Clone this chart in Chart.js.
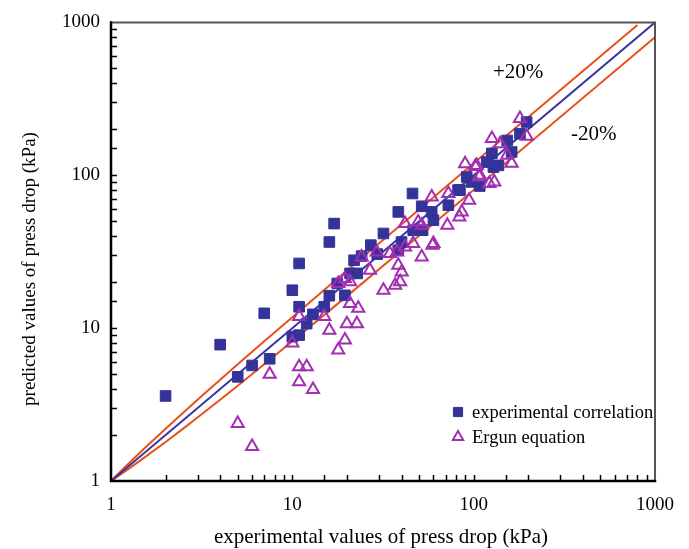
<!DOCTYPE html>
<html>
<head>
<meta charset="utf-8">
<script src="https://cdn.jsdelivr.net/npm/chart.js@4.4.1/dist/chart.umd.min.js"></script>
<style>
  html, body { margin: 0; padding: 0; background: #fff; }
  #wrap { width: 689px; height: 549px; position: relative; }
</style>
</head>
<body>
<div id="wrap"><canvas id="c" width="689" height="549"></canvas></div>
<script>
// Measured vs. predicted pressure drop (kPa)
const correlationExp  = [2, 4, 5, 6, 7, 7.5, 10, 10, 10.9, 10.9, 10.9, 12, 13, 15, 16, 16, 17, 17.7, 19.5, 20.8, 22.8, 21.9, 24.1, 27.1, 29.4, 31.8, 38.4, 40, 38.4, 46, 51.7, 46.4, 52.3, 58.7, 60, 72.5, 84, 82, 91.6, 97.6, 108, 118, 126, 128.5, 137, 153, 162, 180, 196];
const correlationPred = [3.6, 7.8, 4.8, 5.7, 12.5, 6.3, 17.7, 8.8, 26.5, 13.8, 9.0, 10.7, 12.3, 13.8, 16.3, 36.6, 48.3, 19.6, 16.4, 22.8, 22.8, 27.8, 29.6, 34.9, 30.5, 41.6, 57.6, 36.6, 32.3, 76, 62.7, 43.7, 43.7, 57.6, 50.8, 63.7, 80, 80, 97.5, 90.4, 85, 122, 139, 113, 116, 169, 142, 187, 223];

const ergunExp  = [5, 6, 7.5, 10, 10.9, 12, 10.9, 13, 10.9, 15, 16, 17.9, 19.5, 20, 22.7, 20.8, 23.1, 17.9, 19.5, 20.8, 26.8, 24.1, 29.2, 31.8, 36.9, 39.3, 38.4, 40.1, 34.5, 37.8, 41.8, 46.4, 41.8, 49.4, 51.7, 59.4, 60, 51.7, 58.7, 72.5, 71.6, 83.4, 86, 94.3, 89.7, 104, 108, 122, 130, 102, 107.5, 126, 140, 153, 162, 180, 196];
const ergunPred = [2.38, 1.68, 5.0, 8.0, 5.6, 5.6, 4.46, 3.97, 11.9, 11.9, 9.7, 7.2, 8.35, 10.7, 10.7, 14.5, 13.5, 19.6, 21.1, 20.1, 23.9, 29.2, 31.5, 17.7, 19.1, 20.1, 25.8, 23.3, 30.8, 31.5, 34, 35.8, 48.3, 49.4, 47.1, 34.9, 35.8, 29.2, 72.1, 75.9, 47.1, 53.4, 57.6, 68.7, 119, 116, 100, 88.2, 90.4, 114, 97.5, 174, 161, 135, 120, 235, 180];

// Reference lines: perfect agreement and the +/-20% band
const parityX = [1, 1000];
const parityY = [1, 1000];
const upperX = [1, 1.2, 1.5, 2, 2.5, 3, 4, 5, 7, 10, 20, 50, 100, 800];
const upperY = [1, 1.24, 1.6, 2.2, 2.8, 3.4, 4.6, 5.8, 8.2, 11.8, 23.8, 59.8, 119.8, 960];
const lowerX = [1, 1.2, 1.5, 2, 2.5, 3, 4, 5, 7, 10, 20, 50, 100, 1000];
const lowerY = [1, 1.16, 1.4, 1.8, 2.2, 2.6, 3.4, 4.2, 5.8, 8.2, 16.2, 40.2, 80.2, 800];

const tickLabels = [1, 10, 100, 1000];
const seriesNames = ['experimental correlation', 'Ergun equation'];
const bandLabels = ['+20%', '-20%'];
const xTitle = 'experimental values of press drop (kPa)';
const yTitle = 'predicted values of press drop (kPa)';

const pts = (xs, ys) => xs.map((x, i) => ({ x: x, y: ys[i] }));

const SERIF = '"Liberation Serif", "Times New Roman", serif';
const SQUARE_COLOR = '#33339a';
const TRI_COLOR = '#a32db3';
const BAND_COLOR = '#e8501c';
const PARITY_COLOR = '#3a35a0';

// frame, inward ticks, titles and band labels
const overlay = {
  id: 'overlay',
  afterDraw(chart) {
    const ctx = chart.ctx;
    const a = chart.chartArea;
    const xs = chart.scales.x, ys = chart.scales.y;
    ctx.save();

    ctx.lineCap = 'square';
    ctx.strokeStyle = '#555';
    ctx.lineWidth = 2;
    ctx.beginPath();
    ctx.moveTo(a.left, a.top); ctx.lineTo(a.right, a.top); ctx.lineTo(a.right, a.bottom);
    ctx.stroke();
    ctx.strokeStyle = '#000';
    ctx.lineWidth = 2.5;
    ctx.beginPath();
    ctx.moveTo(a.left, a.top); ctx.lineTo(a.left, a.bottom); ctx.lineTo(a.right, a.bottom);
    ctx.stroke();

    ctx.lineWidth = 1.5;
    ctx.lineCap = 'butt';
    ctx.beginPath();
    xs.ticks.forEach(t => {
      if (t.value <= xs.min || t.value >= xs.max) return;
      const p = Math.round(xs.getPixelForValue(t.value)) + 0.5;
      ctx.moveTo(p, a.bottom); ctx.lineTo(p, a.bottom - 6);
    });
    ys.ticks.forEach(t => {
      if (t.value <= ys.min || t.value >= ys.max) return;
      const p = Math.round(ys.getPixelForValue(t.value)) + 0.5;
      ctx.moveTo(a.left, p); ctx.lineTo(a.left + 6, p);
    });
    ctx.stroke();

    ctx.fillStyle = '#000';
    ctx.textAlign = 'center';
    ctx.textBaseline = 'middle';
    ctx.font = '21px ' + SERIF;
    ctx.fillText(xTitle, (a.left + a.right) / 2 - 2, 537);
    ctx.save();
    ctx.translate(30, 269);
    ctx.rotate(-Math.PI / 2);
    ctx.font = '19px ' + SERIF;
    ctx.fillText(yTitle, 0, 0);
    ctx.restore();

    ctx.font = '21px ' + SERIF;
    ctx.textAlign = 'left';
    ctx.fillText(bandLabels[0], 493, 72);
    ctx.fillText(bandLabels[1], 571, 134);
    ctx.restore();
  }
};

// legend glyphs use the dataset styles
const legendGlyphs = {
  id: 'legendGlyphs',
  afterDraw(chart) {
    const ctx = chart.ctx;
    const rows = [412, 437];
    [3, 4].forEach((di, i) => {
      const ds = chart.data.datasets[di];
      ctx.save();
      ctx.fillStyle = ds.backgroundColor;
      ctx.strokeStyle = ds.borderColor;
      ctx.lineWidth = ds.borderWidth;
      Chart.helpers.drawPoint(ctx, {
        pointStyle: ds.pointStyle,
        radius: ds.pointRadius - 1,
        borderWidth: ds.borderWidth
      }, 458, rows[i]);
      ctx.fillStyle = '#000';
      ctx.font = '18.5px ' + SERIF;
      ctx.textAlign = 'left';
      ctx.textBaseline = 'middle';
      ctx.fillText(seriesNames[i], 472, rows[i] + 1);
      ctx.restore();
    });
  }
};

new Chart(document.getElementById('c'), {
  type: 'scatter',
  data: {
    datasets: [
      { label: 'parity', data: pts(parityX, parityY), showLine: true, pointRadius: 0,
        borderColor: PARITY_COLOR, borderWidth: 2, fill: false, order: 5 },
      { label: '+20%', data: pts(upperX, upperY), showLine: true, pointRadius: 0,
        borderColor: BAND_COLOR, borderWidth: 2, fill: false, order: 5 },
      { label: '-20%', data: pts(lowerX, lowerY), showLine: true, pointRadius: 0,
        borderColor: BAND_COLOR, borderWidth: 2, fill: false, order: 5 },
      { label: seriesNames[0], data: pts(correlationExp, correlationPred),
        pointStyle: 'rect', pointRadius: 7.5, backgroundColor: SQUARE_COLOR,
        borderColor: SQUARE_COLOR, borderWidth: 1, order: 2 },
      { label: seriesNames[1], data: pts(ergunExp, ergunPred),
        pointStyle: 'triangle', pointRadius: 7, backgroundColor: 'rgba(0,0,0,0)',
        borderColor: TRI_COLOR, borderWidth: 2, order: 1 }
    ]
  },
  options: {
    responsive: false,
    animation: false,
    devicePixelRatio: 1,
    layout: { padding: { left: 0, top: 22, right: 34, bottom: 0 } },
    plugins: { legend: { display: false }, tooltip: { enabled: false } },
    scales: {
      x: {
        type: 'logarithmic', min: 1, max: 1000,
        grid: { display: false, drawTicks: false }, border: { display: false },
        afterFit: s => { s.height = 68; },
        ticks: {
          autoSkip: false, maxRotation: 0, padding: 13, color: '#000',
          font: { family: SERIF, size: 19 },
          callback: v => tickLabels.includes(v) ? String(v) : ''
        }
      },
      y: {
        type: 'logarithmic', min: 1, max: 1000,
        grid: { display: false, drawTicks: false }, border: { display: false },
        afterFit: s => { s.width = 111; },
        ticks: {
          autoSkip: false, padding: 11, color: '#000',
          font: { family: SERIF, size: 19 },
          callback: v => tickLabels.includes(v) ? String(v) : ''
        }
      }
    }
  },
  plugins: [overlay, legendGlyphs]
});
</script>
</body>
</html>
